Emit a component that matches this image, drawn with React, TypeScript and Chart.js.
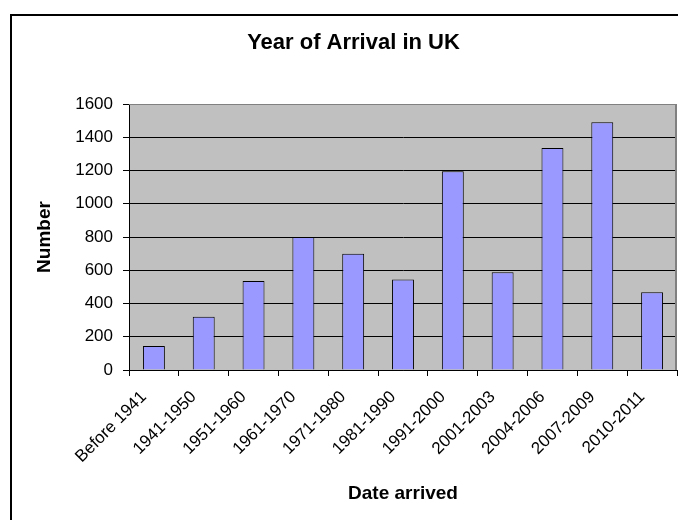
import React, { useEffect, useRef } from 'react';
import { Chart, registerables } from 'chart.js';

Chart.register(...registerables);

const categories = [
  'Before 1941',
  '1941-1950',
  '1951-1960',
  '1961-1970',
  '1971-1980',
  '1981-1990',
  '1991-2000',
  '2001-2003',
  '2004-2006',
  '2007-2009',
  '2010-2011',
];
const values = [145, 320, 535, 800, 700, 545, 1195, 588, 1335, 1490, 468];
const yMin = 0;
const yMax = 1600;
const yStep = 200;
const chartTitle = 'Year of Arrival in UK';
const xTitle = 'Date arrived';
const yTitle = 'Number';

const FONT = '"Liberation Sans", Arial, sans-serif';

const decorPlugin = {
  id: 'decor',
  beforeDraw(chart: any) {
    const { ctx, chartArea } = chart;
    ctx.save();
    ctx.fillStyle = '#ffffff';
    ctx.fillRect(0, 0, chart.width, chart.height);
    ctx.fillStyle = '#C0C0C0';
    ctx.fillRect(chartArea.left, chartArea.top, chartArea.right - chartArea.left, chartArea.bottom - chartArea.top);
    ctx.restore();
  },
  afterDraw(chart: any) {
    const { ctx, chartArea } = chart;
    ctx.save();
    // plot border (top / right)
    ctx.strokeStyle = '#808080';
    ctx.lineWidth = 1;
    ctx.beginPath();
    ctx.moveTo(chartArea.left, chartArea.top + 0.5);
    ctx.lineTo(chartArea.right, chartArea.top + 0.5);
    ctx.stroke();
    ctx.lineWidth = 2;
    ctx.beginPath();
    ctx.moveTo(chartArea.right - 1, chartArea.top);
    ctx.lineTo(chartArea.right - 1, chartArea.bottom);
    ctx.stroke();
    // outer chart border
    ctx.strokeStyle = '#000000';
    ctx.lineWidth = 2;
    ctx.beginPath();
    ctx.moveTo(11, chart.height + 5);
    ctx.lineTo(11, 15);
    ctx.lineTo(chart.width + 5, 15);
    ctx.stroke();
    // title
    ctx.fillStyle = '#000000';
    ctx.font = 'bold 22px ' + FONT;
    ctx.textAlign = 'center';
    ctx.textBaseline = 'middle';
    ctx.fillText(chartTitle, 353.5, 43);
    ctx.restore();
  },
};

export default function App() {
  const canvasRef = useRef<HTMLCanvasElement | null>(null);

  useEffect(() => {
    document.body.style.margin = '0';
    const canvas = canvasRef.current;
    if (!canvas) return;
    const chart = new Chart(canvas, {
      type: 'bar',
      data: {
        labels: categories,
        datasets: [
          {
            data: values,
            backgroundColor: '#9999FF',
            borderColor: '#000000',
            borderWidth: 1,
            barPercentage: 0.44,
            categoryPercentage: 1,
          },
        ],
      },
      options: {
        responsive: false,
        animation: false,
        devicePixelRatio: 1,
        layout: { padding: { top: 104, right: 1, left: 0, bottom: 0 } },
        plugins: {
          legend: { display: false },
          tooltip: { enabled: false },
          title: { display: false },
        },
        scales: {
          x: {
            offset: true,
            grid: {
              offset: true,
              drawOnChartArea: false,
              color: '#000000',
              tickLength: 6,
              tickWidth: 1,
            },
            border: { display: true, color: '#000000', width: 1 },
            ticks: {
              color: '#000000',
              font: { family: FONT, size: 17 },
              minRotation: 45,
              maxRotation: 45,
              autoSkip: false,
              padding: 11,
              labelOffset: -10,
            },
            title: {
              display: true,
              text: xTitle,
              color: '#000000',
              font: { family: FONT, size: 19, weight: 'bold' },
              padding: { top: 0, bottom: 15 },
            },
            afterFit(scale: any) {
              scale.height = 150;
              scale.paddingLeft = 0;
              scale.paddingRight = 0;
            },
          },
          y: {
            min: yMin,
            max: yMax,
            grid: {
              color: (c: any) => (c.tick && c.tick.value === yMax ? 'rgba(0,0,0,0)' : '#000000'),
              tickColor: '#000000',
              tickLength: 6,
              lineWidth: 1,
            },
            border: { display: true, color: '#000000', width: 1 },
            ticks: {
              stepSize: yStep,
              color: '#000000',
              font: { family: FONT, size: 17 },
              padding: 10,
              callback: (v: any) => String(v),
            },
            title: {
              display: true,
              text: yTitle,
              color: '#000000',
              font: { family: FONT, size: 19, weight: 'bold' },
              padding: { top: 33, bottom: 0 },
            },
            afterFit(scale: any) {
              scale.width = 129;
              scale.paddingTop = 0;
              scale.paddingBottom = 0;
            },
          },
        },
      },
      plugins: [decorPlugin],
    });
    return () => chart.destroy();
  }, []);

  return (
    <div style={{ width: 678, height: 520 }}>
      <canvas ref={canvasRef} width={678} height={520} style={{ display: 'block' }} />
    </div>
  );
}
